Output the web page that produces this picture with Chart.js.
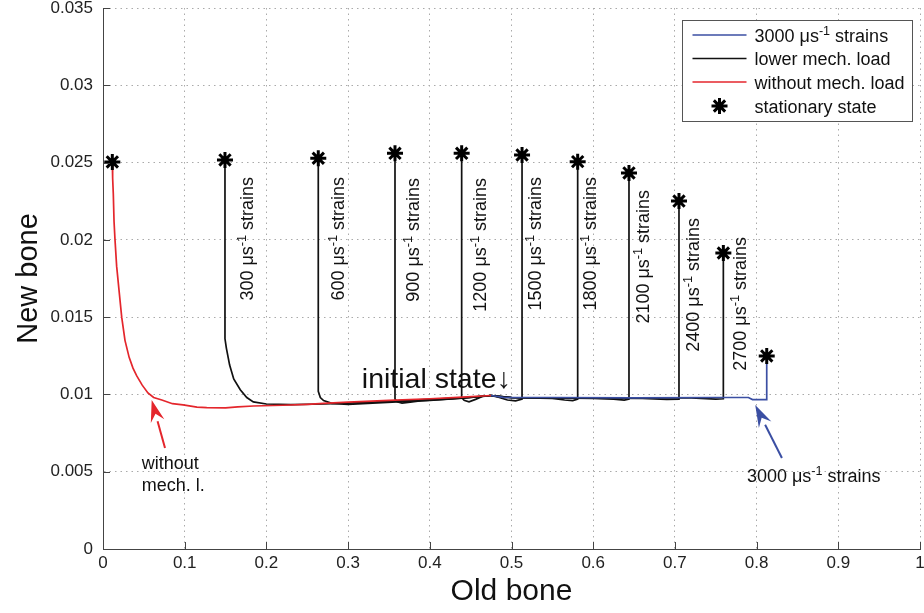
<!DOCTYPE html>
<html><head><meta charset="utf-8">
<script src="https://cdn.jsdelivr.net/npm/chart.js@4.4.0/dist/chart.umd.min.js"></script>
<style>html,body{margin:0;padding:0;background:#fff;}#wrap{width:924px;height:613px;position:relative;}</style>
</head><body><div id="wrap"><canvas id="c"></canvas></div>
<script>
// ---------- data ----------
const xTicks = [0,0.1,0.2,0.3,0.4,0.5,0.6,0.7,0.8,0.9,1];
const xTickLabels = ['0','0.1','0.2','0.3','0.4','0.5','0.6','0.7','0.8','0.9','1'];
const yTicks = [0,0.005,0.01,0.015,0.02,0.025,0.03,0.035];
const yTickLabels = ['0','0.005','0.01','0.015','0.02','0.025','0.03','0.035'];

const withoutLoad = [[0.0114,0.0250],[0.0118,0.0240],[0.0126,0.0230],[0.0135,0.0212],[0.0147,0.0200],[0.0167,0.0183],
  [0.0196,0.01675],[0.0229,0.0150],[0.0269,0.0135],[0.0320,0.0124],[0.0367,0.0117],[0.0413,0.0112],[0.048,0.0106],
  [0.055,0.0101],[0.062,0.0098],[0.072,0.00964],[0.085,0.0094],[0.098,0.00932],[0.115,0.00918],[0.127,0.00914],
  [0.150,0.00913],[0.165,0.00920],[0.184,0.00925],[0.220,0.00930],[0.250,0.00936],[0.270,0.00942],[0.300,0.00950],
  [0.350,0.00962],[0.400,0.00972],[0.440,0.00982],[0.475,0.00993]];
const strain300 = [[0.1493,0.02517],[0.1493,0.0136],[0.151,0.0130],[0.155,0.0119],[0.160,0.0110],[0.168,0.0103],
  [0.176,0.0098],[0.184,0.00952],[0.200,0.00938],[0.230,0.00934],[0.270,0.00938],[0.300,0.00944],[0.330,0.00950],
  [0.360,0.00958],[0.400,0.00968],[0.440,0.00978],[0.475,0.00993]];
const strain600 = [[0.2635,0.02528],[0.2635,0.0102],[0.266,0.0098],[0.270,0.0096],[0.280,0.00942],[0.300,0.00936],
  [0.330,0.00944],[0.360,0.00952],[0.400,0.00962],[0.440,0.00976],[0.475,0.00993]];
const strain900 = [[0.3574,0.0256],[0.3574,0.0097],[0.360,0.00952],[0.366,0.00944],[0.376,0.00950],[0.390,0.00960],
  [0.420,0.00970],[0.450,0.00980],[0.475,0.00993]];
const strain1200 = [[0.4390,0.0256],[0.4390,0.0098],[0.442,0.00962],[0.448,0.00952],[0.456,0.00968],[0.465,0.00988],[0.475,0.00993]];
const strain1500 = [[0.475,0.00993],[0.485,0.00980],[0.495,0.00964],[0.505,0.00958],[0.5129,0.00970],[0.5129,0.02549]];
const strain1800 = [[0.475,0.00993],[0.490,0.00980],[0.520,0.00978],[0.550,0.00974],[0.565,0.00964],[0.575,0.00960],[0.5810,0.00970],[0.5810,0.02506]];
const strain2100 = [[0.475,0.00993],[0.500,0.00980],[0.550,0.00978],[0.600,0.00975],[0.625,0.00970],[0.638,0.00963],[0.6438,0.00970],[0.6438,0.02433]];
const strain2400 = [[0.475,0.00993],[0.500,0.00980],[0.600,0.00976],[0.660,0.00975],[0.690,0.00968],[0.7050,0.00970],[0.7050,0.02251]];
const strain2700 = [[0.475,0.00993],[0.500,0.00980],[0.600,0.00977],[0.700,0.00978],[0.720,0.00978],[0.750,0.00970],[0.7593,0.00972],[0.7593,0.01915]];
const strain3000 = [[0.475,0.00993],[0.490,0.00981],[0.550,0.00980],[0.650,0.00978],[0.750,0.00980],[0.790,0.00980],
  [0.795,0.00967],[0.8124,0.00967],[0.8124,0.01249]];

const starX = [0.0114,0.1493,0.2635,0.3574,0.4390,0.5129,0.5810,0.6438,0.7050,0.7593,0.8124];
const starY = [0.02504,0.02517,0.02528,0.0256,0.0256,0.02549,0.02506,0.02433,0.02251,0.01915,0.01249];

const strainNames = ['300','600','900','1200','1500','1800','2100','2400','2700'];
const legendNames = ['3000 \u03bcs|-1| strains','lower mech. load','without mech. load','stationary state'];

// ---------- annotation layout (data coordinates) ----------
const strainLabelAt = [[0.1759,0.02407],[0.2876,0.02407],[0.3794,0.0240],[0.4614,0.0240],[0.5288,0.02407],
  [0.5961,0.02407],[0.6610,0.02323],[0.7222,0.02141],[0.7797,0.02018]];

const FONT = "'Liberation Sans', Arial, Helvetica, sans-serif";
const RED = '#e4262c', BLUE = '#3b4fa3', BLACK = '#111';

function toXY(arr){ return arr.map(p => ({x:p[0], y:p[1]})); }

function lineDs(label, arr, color, order){
  return {label, data: toXY(arr), showLine: true, borderColor: color, borderWidth: 1.7,
    pointRadius: 0, pointHoverRadius: 0, tension: 0, fill: false, order};
}

// rich text: segments separated by '|', odd segments are superscripts
function drawRich(ctx, text, x, y, size, color){
  const parts = text.split('|');
  let cx = x;
  ctx.fillStyle = color;
  ctx.textBaseline = 'alphabetic';
  ctx.textAlign = 'left';
  parts.forEach((t, i) => {
    const sup = i % 2 === 1;
    const s = sup ? size * 0.7 : size;
    ctx.font = s + 'px ' + FONT;
    ctx.fillText(t, cx, sup ? y - size * 0.38 : y);
    cx += ctx.measureText(t).width;
  });
  return cx - x;
}
function richWidth(ctx, text, size){
  const parts = text.split('|');
  let w = 0;
  parts.forEach((t, i) => { const s = i % 2 ? size * 0.7 : size; ctx.font = s + 'px ' + FONT; w += ctx.measureText(t).width; });
  return w;
}
function arrow(ctx, x1, y1, x2, y2, color){
  const ang = Math.atan2(y2 - y1, x2 - x1), L = 22, W = 7;
  const bx = x2 - L * Math.cos(ang), by = y2 - L * Math.sin(ang);
  ctx.strokeStyle = color; ctx.fillStyle = color; ctx.lineWidth = 2;
  ctx.beginPath(); ctx.moveTo(x1, y1); ctx.lineTo(bx, by); ctx.stroke();
  ctx.beginPath(); ctx.moveTo(x2, y2);
  ctx.lineTo(bx + W * Math.sin(ang), by - W * Math.cos(ang));
  ctx.lineTo(bx + 0.35 * L * Math.cos(ang), by + 0.35 * L * Math.sin(ang));
  ctx.lineTo(bx - W * Math.sin(ang), by + W * Math.cos(ang));
  ctx.closePath(); ctx.fill();
}

const decor = {
  id: 'decor',
  afterDatasetsDraw(chart){
    const ctx = chart.ctx, xs = chart.scales.x, ys = chart.scales.y, ca = chart.chartArea;
    const X = v => xs.getPixelForValue(v), Y = v => ys.getPixelForValue(v);
    ctx.save();
    // inward ticks
    ctx.strokeStyle = '#444'; ctx.lineWidth = 1; ctx.beginPath();
    xTicks.forEach(v => { const p = Math.round(X(v)) + 0.5; ctx.moveTo(p, ca.bottom); ctx.lineTo(p, ca.bottom - 7); });
    yTicks.forEach(v => { const p = Math.round(Y(v)) + 0.5; ctx.moveTo(ca.left, p); ctx.lineTo(ca.left + 7, p); });
    ctx.stroke();

    // tick labels
    ctx.fillStyle = '#222'; ctx.font = '17px ' + FONT;
    ctx.textAlign = 'center'; ctx.textBaseline = 'top';
    xTicks.forEach((v, i) => ctx.fillText(xTickLabels[i], X(v), ca.bottom + 6));
    ctx.textAlign = 'right'; ctx.textBaseline = 'middle';
    yTicks.forEach((v, i) => ctx.fillText(yTickLabels[i], ca.left - 10, Y(v)));

    // vertical strain labels
    strainNames.forEach((n, i) => {
      const txt = n + ' \u03bcs|-1| strains';
      const w = richWidth(ctx, txt, 18);
      ctx.save();
      ctx.translate(X(strainLabelAt[i][0]), Y(strainLabelAt[i][1]));
      ctx.rotate(-Math.PI / 2);
      drawRich(ctx, txt, -w, 6, 18, '#111');
      ctx.restore();
    });

    // initial state
    ctx.font = '28.5px ' + FONT; ctx.fillStyle = '#111'; ctx.textAlign = 'left'; ctx.textBaseline = 'alphabetic';
    ctx.fillText('initial state\u2193', X(0.3168), Y(0.01041));

    // without mech. l.
    ctx.font = '18px ' + FONT;
    ctx.fillText('without', X(0.0474), Y(0.00518));
    ctx.fillText('mech. l.', X(0.0474), Y(0.00376));
    arrow(ctx, X(0.0759), Y(0.00653), X(0.0596), Y(0.00964), RED);

    // 3000 strains
    drawRich(ctx, '3000 \u03bcs|-1| strains', X(0.7882), Y(0.00434), 18, '#111');
    arrow(ctx, X(0.831), Y(0.00589), X(0.7983), Y(0.00931), BLUE);

    // legend
    const bx = ca.right - 237.5, by = ca.top + 12.5, bw = 230, bh = 101;
    ctx.fillStyle = '#fff'; ctx.fillRect(bx, by, bw, bh);
    ctx.strokeStyle = '#555'; ctx.lineWidth = 1; ctx.strokeRect(bx, by, bw, bh);
    const rows = [by + 14.5, by + 38, by + 61.5, by + 85.5];
    const cols = [BLUE, BLACK, RED];
    for (let i = 0; i < 3; i++) {
      ctx.strokeStyle = cols[i]; ctx.lineWidth = 1.7;
      ctx.beginPath(); ctx.moveTo(bx + 10, rows[i]); ctx.lineTo(bx + 64, rows[i]); ctx.stroke();
    }
    const sx = bx + 37, sy = rows[3], r = 8;
    ctx.strokeStyle = '#000'; ctx.lineWidth = 3; ctx.beginPath();
    for (let k = 0; k < 4; k++) { const a = k * Math.PI / 4; ctx.moveTo(sx - r * Math.cos(a), sy - r * Math.sin(a)); ctx.lineTo(sx + r * Math.cos(a), sy + r * Math.sin(a)); }
    ctx.stroke();
    legendNames.forEach((t, i) => drawRich(ctx, t, bx + 72, rows[i] + 6.5, 18, '#111'));
    ctx.restore();
  }
};

new Chart(document.getElementById('c'), {
  type: 'scatter',
  data: {
    datasets: [
      {label: 'stationary state', data: starX.map((x, i) => ({x, y: starY[i]})), pointStyle: 'star',
        pointRadius: 8, pointBorderWidth: 3, borderColor: '#000', backgroundColor: '#000', showLine: false, order: 0, clip: false},
      lineDs('3000', strain3000, BLUE, 1),
      lineDs('without mech. load', withoutLoad, RED, 2),
      lineDs('300', strain300, BLACK, 3),
      lineDs('600', strain600, BLACK, 3),
      lineDs('900', strain900, BLACK, 3),
      lineDs('1200', strain1200, BLACK, 3),
      lineDs('1500', strain1500, BLACK, 3),
      lineDs('1800', strain1800, BLACK, 3),
      lineDs('2100', strain2100, BLACK, 3),
      lineDs('2400', strain2400, BLACK, 3),
      lineDs('2700', strain2700, BLACK, 3)
    ]
  },
  options: {
    responsive: true, maintainAspectRatio: false, animation: false,
    layout: {autoPadding: false, padding: {top: 8, right: 4, left: 0, bottom: 0}},
    plugins: {legend: {display: false}, tooltip: {enabled: false}},
    scales: {
      x: {
        type: 'linear', min: 0, max: 1,
        afterBuildTicks: s => { s.ticks = xTicks.map(v => ({value: v})); },
        afterFit: s => { s.height = 64; },
        ticks: {display: false},
        grid: {color: '#aaa', lineWidth: 1, drawTicks: false},
        border: {display: true, color: '#444', width: 1, dash: [1.5, 4]},
        title: {display: true, text: 'Old bone', color: '#111', font: {family: FONT, size: 30}, padding: {top: 0, bottom: 3}}
      },
      y: {
        type: 'linear', min: 0, max: 0.035,
        afterBuildTicks: s => { s.ticks = yTicks.map(v => ({value: v})); },
        afterFit: s => { s.width = 103; },
        ticks: {display: false},
        grid: {color: '#aaa', lineWidth: 1, drawTicks: false},
        border: {display: true, color: '#444', width: 1, dash: [1.5, 4]},
        title: {display: true, text: 'New bone', color: '#111', font: {family: FONT, size: 29}, padding: {top: 12, bottom: 0}}
      }
    }
  },
  plugins: [decor]
});
</script></body></html>
